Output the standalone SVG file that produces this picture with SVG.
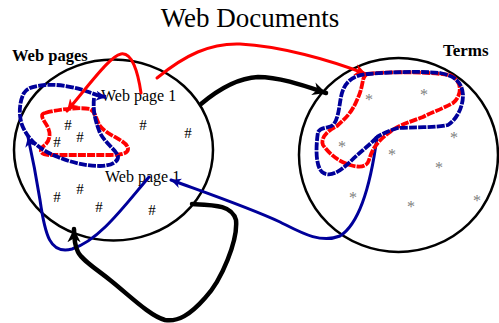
<svg xmlns="http://www.w3.org/2000/svg" width="499" height="323" viewBox="0 0 499 323">
<style>
.circ{fill:none;stroke:#000;stroke-width:2.5}
.t{font-family:"Liberation Serif","Times New Roman",serif;fill:#000}
.h{font-family:"Liberation Serif","Times New Roman",serif;font-size:15px;fill:#000;text-anchor:middle}
.a{font-family:"Liberation Serif","Times New Roman",serif;font-size:16px;fill:#808080;text-anchor:middle}
.red{fill:none;stroke:#ff0000;stroke-width:3;stroke-linecap:round;stroke-linejoin:round}
.redd{fill:none;stroke:#ff0000;stroke-width:3.8;stroke-dasharray:8 1.2;stroke-linejoin:round}
.blue{fill:none;stroke:#00009a;stroke-width:3;stroke-linecap:round;stroke-linejoin:round}
.blued{fill:none;stroke:#00009a;stroke-width:3.8;stroke-dasharray:8 1.2;stroke-linejoin:round}
.blk{fill:none;stroke:#000;stroke-width:4.5;stroke-linecap:round;stroke-linejoin:round}
</style>
<defs>
<marker id="ar" markerUnits="userSpaceOnUse" markerWidth="14" markerHeight="14" refX="10" refY="5" orient="auto" viewBox="0 0 12 10"><path d="M0,0 L10,5 L0,10 L3,5 Z" fill="#ff0000"/></marker>
<marker id="ab" markerUnits="userSpaceOnUse" markerWidth="12" markerHeight="12" refX="10" refY="5" orient="auto" viewBox="0 0 12 10"><path d="M0,0 L10,5 L0,10 L3,5 Z" fill="#00009a"/></marker>
<marker id="ak" markerUnits="userSpaceOnUse" markerWidth="16" markerHeight="16" refX="10" refY="5" orient="auto" viewBox="0 0 12 10"><path d="M0,0 L10,5 L0,10 L3,5 Z" fill="#000"/></marker>
</defs>
<rect width="499" height="323" fill="#fff"/>
<text class="t" x="250" y="27" font-size="27" text-anchor="middle">Web Documents</text>
<g id="webpages">
<ellipse class="circ" cx="113.5" cy="150" rx="99.5" ry="90.5"/>
<text class="t" x="12" y="61" font-size="16.5" font-weight="bold">Web pages</text>
<text class="t" x="101" y="100.5" font-size="16">Web page 1</text>
<text class="t" x="105" y="182" font-size="16">Web page 1</text>
<text class="h" x="68" y="130">#</text>
<text class="h" x="143" y="130">#</text>
<text class="h" x="188" y="138">#</text>
<text class="h" x="57" y="147">#</text>
<text class="h" x="80" y="142">#</text>
<text class="h" x="57" y="202">#</text>
<text class="h" x="80" y="194">#</text>
<text class="h" x="99" y="212">#</text>
<text class="h" x="152" y="215">#</text>
</g>
<g id="terms">
<ellipse class="circ" cx="398.5" cy="155" rx="99.5" ry="97"/>
<text class="t" x="443" y="56" font-size="17" font-weight="bold">Terms</text>
<text class="a" x="369" y="105">*</text>
<text class="a" x="424" y="100">*</text>
<text class="a" x="454" y="143">*</text>
<text class="a" x="342" y="152">*</text>
<text class="a" x="392" y="160">*</text>
<text class="a" x="439" y="173">*</text>
<text class="a" x="353" y="203">*</text>
<text class="a" x="411" y="212">*</text>
<text class="a" x="477" y="206">*</text>
</g>
<g id="connectors">
<path class="redd" d="M45,113 C60,109 80,107 90,109 C96,112 96,120 100,126 C108,136 126,140 128,148 C129,154 120,155 110,155 L50,155 C40,155 38,150 45,145 C52,138 50,130 46,124 C42,118 40,114 45,113 Z"/>
<path class="blued" d="M94,98 C93,108 94,118 100,133 C106,144 116,150 118,156 C119,162 110,166 100,166 C85,166 70,162 58,157 C40,150 28,140 22,125 C18,113 20,100 24,93 C28,87 35,86 45,85 C60,84 72,87 83,90 C92,93 98,96 106,97" marker-end="url(#ab)"/>
<path class="red" d="M141,93 C138,72 132,52 121,54 C110,56 90,84 67,111" marker-end="url(#ar)"/>
<path class="blue" d="M149,177 C125,205 100,240 72,249 C50,255 45,235 40,200 C36,175 32,155 28,137" marker-end="url(#ab)"/>
<path class="blue" d="M377,137 C372,175 362,222 340,236 C320,244 300,232 280,222 C250,208 215,196 171,180" marker-end="url(#ab)"/>
<path class="red" d="M157,78 C185,55 210,43 240,44 C280,46 330,60 366,74" marker-end="url(#ar)"/>
<path class="blk" d="M201,104 C220,88 238,78 258,77 C280,77 305,86 326,93" marker-end="url(#ak)"/>
<path class="blk" d="M192,204 C215,205 232,205 236,220 C238,240 222,280 205,298 C190,315 178,322 165,320 C150,316 130,296 110,280 C95,268 82,260 78,252 C75,246 74,240 74,229" marker-end="url(#ak)"/>
<path class="redd" d="M367,74 C380,72 420,71 450,75 C462,80 463,95 453,103 C440,110 430,113 423,117 C410,122 398,125 390,132 C376,142 372,150 369,160 C367,167 360,168 350,165 C340,162 330,155 323,145 C320,138 328,130 337,126 C346,118 352,112 357,100 C361,92 362,85 363,80 C364,76 365,75 367,74 Z"/>
<path class="blued" d="M377,137 C370,145 360,152 352,160 C340,172 330,178 322,172 C315,165 316,145 318,132 C322,126 330,129 334,124 C340,115 339,100 343,90 C347,80 355,75 368,74 C390,72 420,71 440,73 C455,76 462,82 463,95 C463,108 456,120 448,125 C435,128 410,127 398,128 C390,130 382,134 377,137"/>
</g>
</svg>
